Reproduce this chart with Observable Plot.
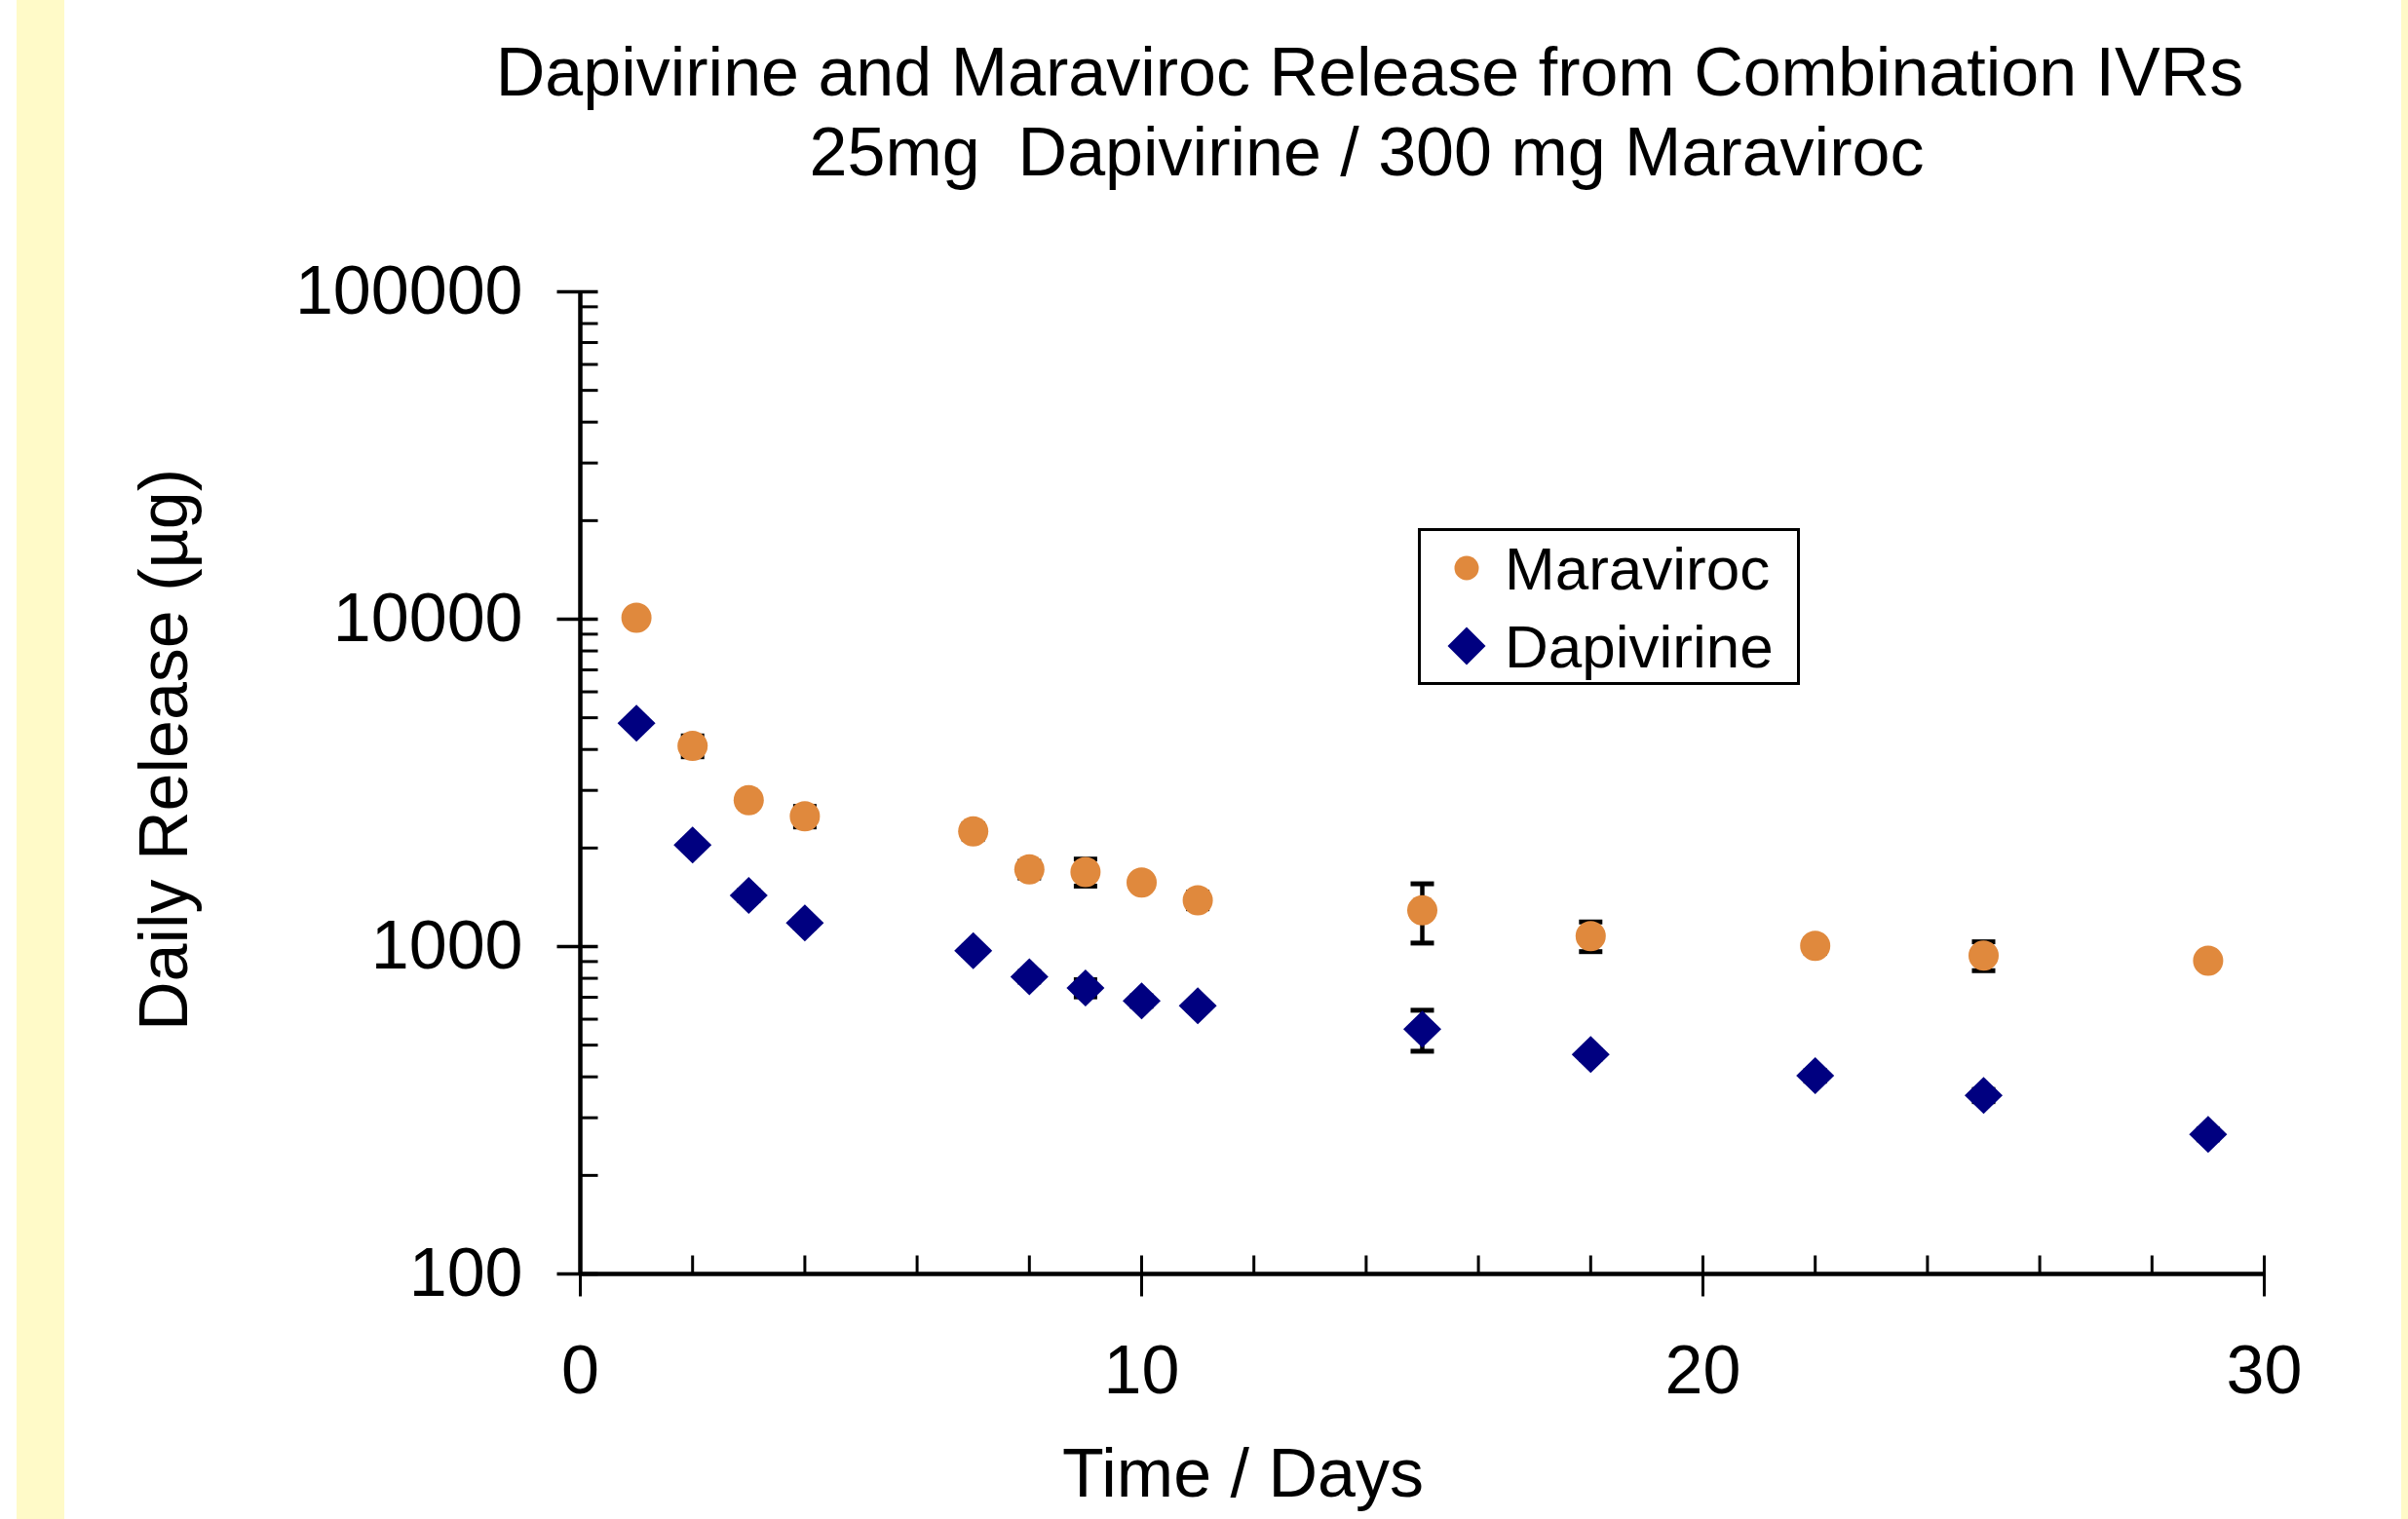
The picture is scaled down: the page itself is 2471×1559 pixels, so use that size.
<!DOCTYPE html>
<html><head><meta charset="utf-8">
<script src="https://cdn.jsdelivr.net/npm/d3@7"></script>
<script src="https://cdn.jsdelivr.net/npm/@observablehq/plot@0.6"></script>
<style>
html,body{margin:0;padding:0;background:#fff;}
#wrap{position:relative;width:2471px;height:1559px;overflow:hidden;font-family:'Liberation Sans',Arial,sans-serif;}
#wrap svg text{white-space:pre;}
.strip{position:absolute;top:0;height:1559px;background:#fffac8;}
</style></head><body>
<div id="wrap"></div>
<script>
// ---- data ----
const titleLines = ["Dapivirine and Maraviroc Release from Combination IVRs", "25mg  Dapivirine / 300 mg Maraviroc"];
const xTitle = "Time / Days";
const yTitle = "Daily Release (µg)";
const seriesNames = ["Maraviroc", "Dapivirine"];
const seriesColors = ["#e0893d", "#000080"];
const days = [1, 2, 3, 4, 7, 8, 9, 10, 11, 15, 18, 22, 25, 29];
const maraviroc   = [10100, 4100, 2800, 2500, 2250, 1720, 1690, 1570, 1385, 1290, 1077, 1005, 939, 905];
const maravirocSD = [300, 300, 120, 180, 120, 100, 160, 70, 80, 265, 112, 50, 95, 40];
const dapivirine   = [4815, 2043, 1433, 1180, 971, 809, 747, 682, 659, 559, 468, 403, 351, 267];
const dapivirineSD = [150, 60, 50, 40, 30, 30, 45, 25, 20, 80, 15, 15, 15, 10];
const yMajor = [100, 1000, 10000, 100000];
const yMinor = [200,300,400,500,600,700,800,900,2000,3000,4000,5000,6000,7000,8000,9000,20000,30000,40000,50000,60000,70000,80000,90000];
const xMajor = [0, 10, 20, 30];
const xMinor = [2, 4, 6, 8, 12, 14, 16, 18, 22, 24, 26, 28];

// ---- build rows ----
const rows = [];
days.forEach((d, i) => rows.push({day: d, value: maraviroc[i], sd: maravirocSD[i], series: seriesNames[0]}));
days.forEach((d, i) => rows.push({day: d, value: dapivirine[i], sd: dapivirineSD[i], series: seriesNames[1]}));
const marRows = rows.filter(r => r.series === seriesNames[0]);
const dapRows = rows.filter(r => r.series === seriesNames[1]);

// ---- custom symbols ----
const lineSym = (x1, y1, x2, y2) => ({draw(ctx) { ctx.moveTo(x1, y1); ctx.lineTo(x2, y2); }});
const yMajorSym = lineSym(-24, 0, 18, 0);
const yMinorSym = lineSym(0, 0, 18, 0);
const xMajorSym = lineSym(0, -19, 0, 23);
const xMinorSym = lineSym(0, -19, 0, 0);
const capSym = lineSym(-12, 0, 12, 0);
const diamondSym = {draw(ctx) { ctx.moveTo(0, -19); ctx.lineTo(19.5, 0); ctx.lineTo(0, 19); ctx.lineTo(-19.5, 0); ctx.closePath(); }};

const W = 2471, H = 1559;
const chart = Plot.plot({
  width: W, height: H,
  marginLeft: 595, marginRight: 148, marginTop: 299, marginBottom: 252,
  x: {domain: [0, 30], axis: null},
  y: {type: "log", domain: [100, 100000], axis: null},
  style: {fontFamily: "'Liberation Sans', Arial, sans-serif", fontSize: "70px", background: "transparent", color: "black", overflow: "visible"},
  marks: [
    // axis lines
    Plot.ruleY([100], {x1: 0, x2: 30, stroke: "black", strokeWidth: 4.5}),
    Plot.ruleX([0], {y1: 100, y2: 100000, stroke: "black", strokeWidth: 4.5}),
    // ticks
    Plot.dot(yMajor, {x: () => 0, y: d => d, symbol: yMajorSym, fill: "none", stroke: "black", strokeWidth: 3.5}),
    Plot.dot(yMinor, {x: () => 0, y: d => d, symbol: yMinorSym, fill: "none", stroke: "black", strokeWidth: 3}),
    Plot.dot(xMajor, {x: d => d, y: () => 100, symbol: xMajorSym, fill: "none", stroke: "black", strokeWidth: 3}),
    Plot.dot(xMinor, {x: d => d, y: () => 100, symbol: xMinorSym, fill: "none", stroke: "black", strokeWidth: 3}),
    // tick labels
    Plot.text(yMajor, {x: () => 0, y: d => d, text: d => String(d), textAnchor: "end", lineAnchor: "middle", dx: -59, fill: "black"}),
    Plot.text(xMajor, {x: d => d, y: () => 100, text: d => String(d), textAnchor: "middle", lineAnchor: "middle", dy: 100, fill: "black"}),
    // axis titles
    Plot.text([xTitle], {frameAnchor: "bottom", text: d => d, textAnchor: "middle", lineAnchor: "middle", dx: -184, dy: 206, fill: "black"}),
    Plot.text([yTitle], {frameAnchor: "left", text: d => d, rotate: -90, textAnchor: "middle", lineAnchor: "middle", dx: -426, dy: -34, fill: "black"}),
    // chart titles
    Plot.text([titleLines[0]], {frameAnchor: "top", text: d => d, textAnchor: "middle", lineAnchor: "middle", dx: -54, dy: -224, fill: "black"}),
    Plot.text([titleLines[1]], {frameAnchor: "top", text: d => d, textAnchor: "middle", lineAnchor: "middle", dx: -57, dy: -142, fill: "black"}),
    // error bars
    Plot.ruleX(rows, {x: "day", y1: d => d.value - d.sd, y2: d => d.value + d.sd, stroke: "black", strokeWidth: 4.5}),
    Plot.dot(rows, {x: "day", y: d => d.value + d.sd, symbol: capSym, fill: "none", stroke: "black", strokeWidth: 5}),
    Plot.dot(rows, {x: "day", y: d => d.value - d.sd, symbol: capSym, fill: "none", stroke: "black", strokeWidth: 5}),
    // markers
    Plot.dot(marRows, {x: "day", y: "value", r: 15.5, fill: seriesColors[0], stroke: "none"}),
    Plot.dot(dapRows, {x: "day", y: "value", symbol: diamondSym, fill: seriesColors[1], stroke: "none"})
  ]
});

const wrap = document.getElementById("wrap");
chart.style.position = "absolute";
chart.style.left = "0px";
chart.style.top = "0px";
wrap.appendChild(chart);

// yellow edge strips
const s1 = document.createElement("div"); s1.className = "strip"; s1.style.left = "17px"; s1.style.width = "49px"; wrap.appendChild(s1);
const s2 = document.createElement("div"); s2.className = "strip"; s2.style.left = "2464px"; s2.style.width = "7px"; wrap.appendChild(s2);

// legend box (inside plot area)
const lg = d3.create("svg").attr("width", 392).attr("height", 161)
  .style("position", "absolute").style("left", "1455px").style("top", "542px")
  .style("font-family", "'Liberation Sans', Arial, sans-serif");
lg.append("rect").attr("x", 1.5).attr("y", 1.5).attr("width", 389).attr("height", 158)
  .attr("fill", "white").attr("stroke", "black").attr("stroke-width", 3);
seriesNames.forEach((name, i) => {
  const cy = 41 + i * 80;
  if (i === 0) {
    lg.append("circle").attr("cx", 50).attr("cy", cy).attr("r", 12.5).attr("fill", seriesColors[i]);
  } else {
    lg.append("path").attr("d", `M50,${cy-19.5}L69.5,${cy}L50,${cy+19.5}L30.5,${cy}Z`).attr("fill", seriesColors[i]);
  }
  lg.append("text").attr("x", 89).attr("y", cy + 22).attr("font-size", 62).attr("fill", "black").text(name);
});
wrap.appendChild(lg.node());
</script>
</body></html>
